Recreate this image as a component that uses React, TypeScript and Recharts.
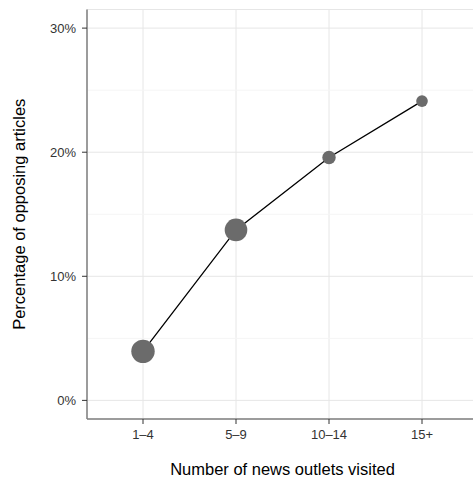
import {
  ComposedChart,
  Line,
  Scatter,
  XAxis,
  YAxis,
  CartesianGrid,
  ReferenceLine,
} from "recharts";

const GROUPS = ["1–4", "5–9", "10–14", "15+"];
const OPPOSING = [0.0395, 0.1374, 0.1957, 0.2412];
const WEIGHT = [137, 128, 45, 34];
const Y_TICKS = [0, 0.1, 0.2, 0.3];
const MINOR_TICKS = [0.05, 0.15, 0.25];

const data = GROUPS.map((g, i) => ({ group: g, pct: OPPOSING[i], weight: WEIGHT[i] }));

const FONT = "'Liberation Sans', Arial, Helvetica, sans-serif";
const BORDER = "#7f7f7f";
const GRID = "#e6e6e6";
const MINOR = "#f5f5f5";
const POINT = "#6b6b6b";
const TICK_TEXT = "#333";

const pct = (v: number) => `${Math.round(v * 100)}%`;

function Dot(props: any) {
  const { cx, cy, payload } = props;
  return <circle cx={cx} cy={cy} r={Math.sqrt(payload.weight)} fill={POINT} />;
}

export default function App() {
  return (
    <div style={{ position: "absolute", left: 0, top: 0, width: 473, height: 479, overflow: "hidden", background: "#fff" }}>
      <ComposedChart width={478} height={479} data={data} margin={{ top: 9.5, right: 0, bottom: 0, left: 0 }}>
        <CartesianGrid stroke={GRID} strokeWidth={1} />
        {MINOR_TICKS.map((t) => (
          <ReferenceLine key={t} y={t} stroke={MINOR} strokeWidth={1} />
        ))}
        <XAxis
          dataKey="group"
          type="category"
          scale="point"
          padding={{ left: 56, right: 56 }}
          height={60}
          tickSize={5}
          tickMargin={6}
          tick={{ fontSize: 13, fill: TICK_TEXT, fontFamily: FONT }}
          tickLine={{ stroke: "#333" }}
          axisLine={{ stroke: BORDER, strokeWidth: 1.5 }}
          label={{ value: "Number of news outlets visited", position: "insideBottom", offset: 4, fontSize: 16.5, fill: "#000", fontFamily: FONT }}
        />
        <XAxis xAxisId="top" dataKey="group" orientation="top" height={0} tick={false} tickLine={false} axisLine={{ stroke: BORDER, strokeWidth: 1.5 }} />
        <YAxis
          type="number"
          domain={[-0.015, 0.315]}
          ticks={Y_TICKS}
          tickFormatter={pct}
          width={87}
          tickSize={5}
          tickMargin={6}
          tick={{ fontSize: 13, fill: TICK_TEXT, fontFamily: FONT }}
          tickLine={{ stroke: "#333" }}
          axisLine={{ stroke: BORDER, strokeWidth: 1.5 }}
          label={{ value: "Percentage of opposing articles", angle: -90, position: "insideLeft", offset: 19, fontSize: 16.5, fill: "#000", fontFamily: FONT, style: { textAnchor: "middle" } }}
        />
        <Scatter dataKey="pct" shape={Dot} isAnimationActive={false} />
        <Line dataKey="pct" stroke="#000" strokeWidth={1.3} dot={false} activeDot={false} isAnimationActive={false} />
      </ComposedChart>
    </div>
  );
}
